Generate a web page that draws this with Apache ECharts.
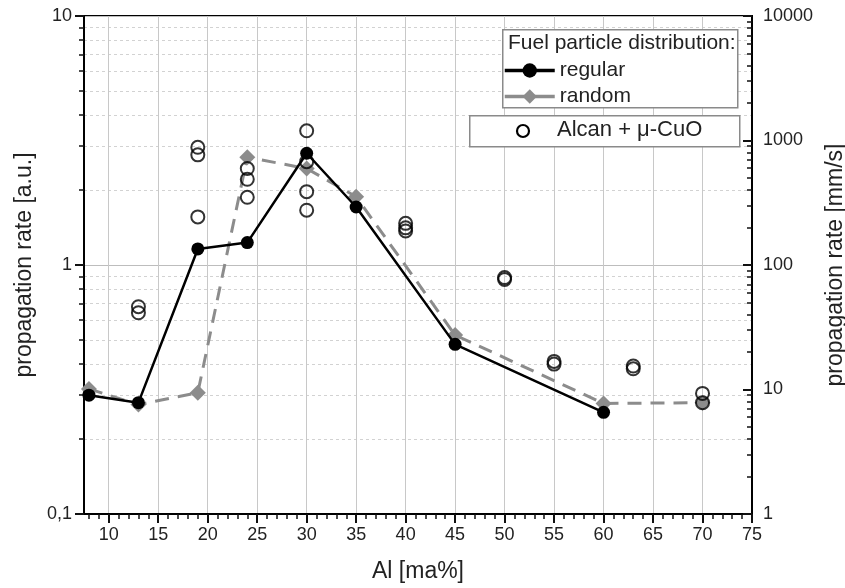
<!DOCTYPE html>
<html>
<head>
<meta charset="utf-8">
<script src="https://cdn.jsdelivr.net/npm/echarts@6/dist/echarts.min.js"></script>
<style>
  html, body { margin: 0; padding: 0; background: #fff; }
  #chart { width: 845px; height: 588px; }
</style>
</head>
<body>
<div id="chart"></div>
<script>
// Propagation rate vs. Al content for two fuel particle distributions
const regularAl   = [8, 13, 19, 24, 30, 35, 45, 60];
const regularRate = [0.30, 0.28, 1.16, 1.23, 2.81, 1.71, 0.48, 0.256];

const randomAl   = [8, 13, 19, 24, 30, 35, 45, 60, 70];
const randomRate = [0.318, 0.275, 0.307, 2.71, 2.44, 1.88, 0.523, 0.278, 0.28];

const alcanAl   = [13, 13, 19, 19, 19, 24, 24, 24, 30, 30, 30, 30, 40, 40, 40, 50, 50, 55, 55, 63, 63, 70, 70];
const alcanRate = [0.68, 0.643, 2.97, 2.77, 1.56, 2.44, 2.21, 1.87, 3.46, 2.60, 1.97, 1.66, 1.47, 1.41, 1.37, 0.89, 0.875, 0.41, 0.40, 0.393, 0.383, 0.305, 0.28];

const xMajorTicks = [10, 15, 20, 25, 30, 35, 40, 45, 50, 55, 60, 65, 70, 75];
const xMinorTicks = [];
for (let v = 8; v <= 74; v++) xMinorTicks.push(v);

const FONT = "'Liberation Sans', Arial, Helvetica, sans-serif";
const TEXT = '#222';
const TICK = '#111';
const ALCAN = 'Alcan + μ-CuO';

const pairs = (xs, ys) => xs.map((x, i) => [x, ys[i]]);
const plain = v => String(+(+v).toFixed(3));

const chart = echarts.init(document.getElementById('chart'), null, { renderer: 'canvas' });

chart.setOption({
  animation: false,
  backgroundColor: '#fff',
  textStyle: { fontFamily: FONT },
  grid: {
    left: 84, right: 93, top: 16, bottom: 74,
    containLabel: false, outerBoundsMode: 'none',
    show: true, borderColor: '#000', borderWidth: 2, backgroundColor: 'transparent'
  },
  xAxis: [
    {
      // major ticks, labels and vertical grid
      type: 'value', min: 7.5, max: 75, minInterval: 5, maxInterval: 5,
      position: 'bottom',
      name: 'Al [ma%]', nameLocation: 'middle', nameGap: 46,
      nameTextStyle: { fontSize: 23, color: TEXT, fontFamily: FONT },
      axisLine: { show: true, lineStyle: { color: '#000', width: 2 } },
      axisTick: { show: true, customValues: xMajorTicks, length: 9, lineStyle: { color: TICK, width: 2 } },
      axisLabel: { customValues: xMajorTicks, margin: 12, fontSize: 18, color: TEXT, fontFamily: FONT },
      splitLine: { show: true, lineStyle: { color: '#c8c8c8', width: 1 } }
    },
    {
      // same scale, carries the unit minor ticks
      type: 'value', min: 7.5, max: 75, position: 'bottom',
      axisLine: { show: false },
      axisTick: { show: true, customValues: xMinorTicks, length: 5, lineStyle: { color: TICK, width: 1.5 } },
      axisLabel: { show: false },
      splitLine: { show: false }
    }
  ],
  yAxis: [
    {
      type: 'log', logBase: 10, min: 0.1, max: 10, position: 'left',
      name: 'propagation rate [a.u.]', nameLocation: 'middle', nameGap: 47,
      nameTextStyle: { fontSize: 23, color: TEXT, fontFamily: FONT },
      axisLine: { show: true, lineStyle: { color: '#000', width: 2 } },
      axisTick: { show: true, length: 9, lineStyle: { color: TICK, width: 2 } },
      minorTick: { show: true, splitNumber: 9, length: 5, lineStyle: { color: TICK, width: 1.5 } },
      axisLabel: {
        margin: 12, fontSize: 18, color: TEXT, fontFamily: FONT,
        formatter: v => (v < 1 ? plain(v).replace('.', ',') : plain(v))
      },
      splitLine: { show: true, lineStyle: { color: '#bdbdbd', width: 1 } },
      minorSplitLine: { show: true, lineStyle: { color: '#d2d2d2', width: 1, type: [3, 3] } }
    },
    {
      type: 'log', logBase: 10, min: 1, max: 10000, position: 'right',
      name: 'propagation rate [mm/s]', nameLocation: 'middle', nameGap: 69,
      nameTextStyle: { fontSize: 23, color: TEXT, fontFamily: FONT },
      axisLine: { show: true, lineStyle: { color: '#000', width: 2 } },
      axisTick: { show: true, inside: true, length: 9, lineStyle: { color: TICK, width: 2 } },
      minorTick: { show: true, splitNumber: 9, length: 5, lineStyle: { color: TICK, width: 1.5 } },
      axisLabel: { margin: 11, fontSize: 18, color: TEXT, fontFamily: FONT, formatter: plain },
      splitLine: { show: false },
      minorSplitLine: { show: false }
    }
  ],
  legend: [
    {
      data: ['regular', 'random'],
      orient: 'vertical', left: 498, top: 55,
      itemWidth: 50, itemHeight: 18, itemGap: 5,
      lineStyle: { type: 'solid', width: 3.5 },
      textStyle: { fontSize: 21, lineHeight: 21, color: TEXT, fontFamily: FONT },
      z: 6
    }
  ],
  graphic: [
    {
      type: 'rect', left: 502, top: 29, z: 5,
      shape: { width: 235, height: 78 },
      style: { fill: '#fff', stroke: '#8a8a8a', lineWidth: 1.5 }
    },
    {
      type: 'text', left: 508, top: 33, z: 6,
      style: { text: 'Fuel particle distribution:', font: '21px ' + FONT, fill: TEXT }
    },
    {
      type: 'rect', left: 469, top: 115, z: 5,
      shape: { width: 270, height: 31 },
      style: { fill: '#fff', stroke: '#8a8a8a', lineWidth: 1.5 }
    },
    {
      type: 'circle', z: 6,
      shape: { cx: 523, cy: 131, r: 6 },
      style: { fill: 'rgba(0,0,0,0)', stroke: '#000', lineWidth: 2.2 }
    },
    {
      type: 'text', left: 557, top: 119, z: 6,
      style: { text: ALCAN, font: '22px ' + FONT, fill: TEXT }
    }
  ],
  series: [
    {
      name: 'random', type: 'line', xAxisIndex: 0, yAxisIndex: 0,
      data: pairs(randomAl, randomRate),
      symbol: 'diamond', symbolSize: 16,
      itemStyle: { color: '#8c8c8c' },
      lineStyle: { color: '#8c8c8c', width: 3, type: [14, 9] },
      z: 2
    },
    {
      name: 'regular', type: 'line', xAxisIndex: 0, yAxisIndex: 0,
      data: pairs(regularAl, regularRate),
      symbol: 'circle', symbolSize: 13,
      itemStyle: { color: '#000' },
      lineStyle: { color: '#000', width: 2.5 },
      z: 3
    },
    {
      name: ALCAN, type: 'scatter', xAxisIndex: 1, yAxisIndex: 0,
      data: pairs(alcanAl, alcanRate),
      symbol: 'circle', symbolSize: 13,
      itemStyle: { color: 'rgba(0,0,0,0)', borderColor: '#000', borderWidth: 2 },
      z: 4
    }
  ]
});
</script>
</body>
</html>
